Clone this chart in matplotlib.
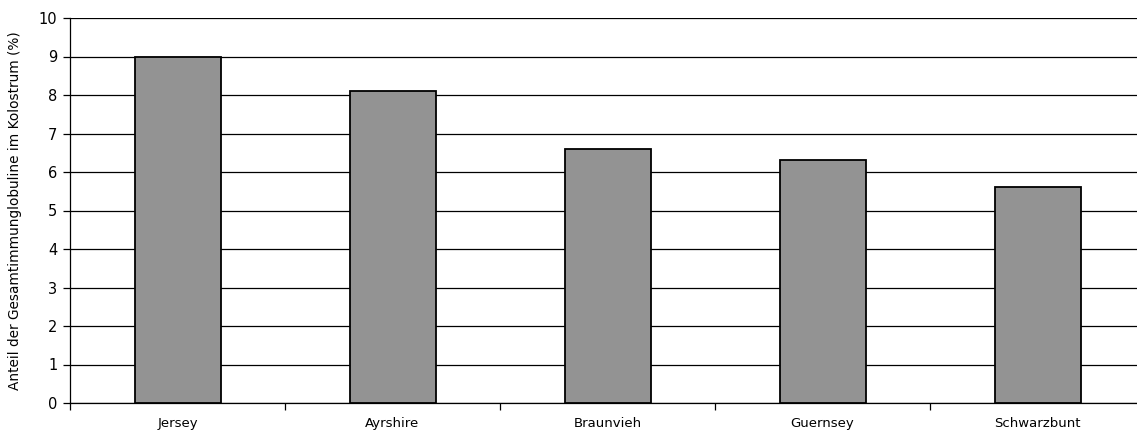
import numpy as np
import matplotlib.pyplot as plt

breeds = ["Jersey", "Ayrshire", "Braunvieh", "Guernsey", "Schwarzbunt"]
anteil = [9.0, 8.1, 6.6, 6.3, 5.6]
yticks = list(range(0, 11))

fig = plt.figure(figsize=(11.37, 4.38), dpi=100)
# axis runs a bit past the right edge of the picture
ax = fig.add_axes([70 / 1137, 35 / 438, 1075 / 1137, 385 / 438])

x = np.arange(len(breeds))
ax.bar(x, anteil, width=0.4, color="#939393", edgecolor="black", linewidth=1.3, zorder=3)

ax.set_xlim(-0.5, len(breeds) - 0.5)
ax.set_ylim(0, 10)
ax.set_yticks(yticks)
ax.yaxis.grid(True, color="black", linewidth=0.9, zorder=0)
ax.set_axisbelow(True)

ax.set_xticks(x)
ax.set_xticklabels(breeds, fontsize=9.5)
ax.tick_params(axis="x", length=0, pad=10)
ax.set_xticks(np.arange(len(breeds) + 1) - 0.5, minor=True)
ax.tick_params(axis="x", which="minor", length=5, direction="out", width=0.9)
ax.tick_params(axis="y", length=5, direction="out", width=0.9, labelsize=10.5, pad=4)

for s in ["top", "right"]:
    ax.spines[s].set_visible(False)
ax.spines["left"].set_linewidth(0.9)
ax.spines["bottom"].set_linewidth(0.9)

ax.set_ylabel("Anteil der Gesamtimmunglobuline im Kolostrum (%)", fontsize=9.8, labelpad=12)

fig.savefig("out.png", dpi=100)
